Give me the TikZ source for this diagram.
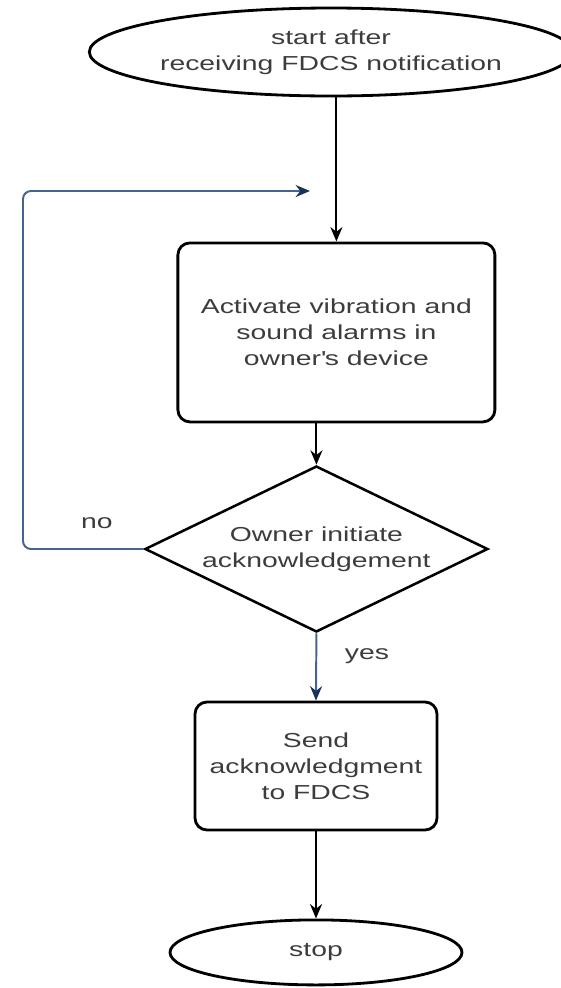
\documentclass[tikz,border=0pt]{standalone}
\usepackage{fontspec}
\setmainfont{Liberation Sans}[FakeStretch=1.4]
\usepackage{tikz}
\usetikzlibrary{shapes.geometric, arrows.meta, positioning, calc}

\definecolor{loopblue}{RGB}{70,100,140}
\definecolor{tipblue}{RGB}{25,50,90}
\definecolor{txtgray}{RGB}{60,60,60}

\begin{document}
\begin{tikzpicture}[
        every node/.style={font=\fontsize{14.4pt}{18.5pt}\selectfont, text=txtgray},
        term/.style={ellipse, draw, line width=2pt, inner sep=0pt, align=center},
        proc/.style={rectangle, draw, line width=2pt, rounded corners=0.3cm, inner sep=0pt, align=center},
        dec/.style={diamond, draw, line width=1.8pt, shape aspect=2.07, inner sep=0pt, align=center,
            minimum width=8.575cm, minimum height=4.15cm},
        flow/.style={-{Stealth[length=0.36cm, width=0.3cm]}, line width=1.4pt},
        back/.style={-{Stealth[length=0.36cm, width=0.3cm, color=tipblue]}, line width=1.4pt, draw=loopblue, rounded corners=0.2cm},
        lbl/.style={inner sep=0pt}
    ]
    \useasboundingbox (0,0) rectangle (14.025,-24.7);

    % Objects
    \node[term, minimum width=11.4cm, minimum height=2.2cm] (start) at (8.275,-1.3) {start after\\receiving FDCS notification};
    \node[proc, minimum width=7.925cm, minimum height=4.475cm] (alarm) at (8.41,-8.31) {Activate vibration and\\sound alarms in\\owner\textquotesingle s device};
    \node[dec] (ack) at (7.91,-13.725) {Owner initiate\\acknowledgement};
    \node[proc, minimum width=6.05cm, minimum height=3.2cm] (send) at (7.9,-19.15) {Send\\acknowledgment\\to FDCS};
    \node[term, minimum width=7.3cm, minimum height=1.625cm] (stop) at (7.9,-23.81) {stop};

    % Loop points
    \coordinate (loopcorner) at (0.575,-4.775);
    \coordinate (loopin) at (7.75,-4.775);

    % Labels
    \node[lbl] (nolbl) at (2.425,-13.075) {no};
    \node[lbl] (yeslbl) at (9.175,-16.4) {yes};

    % Flow
    \draw[flow] (alarm.north |- start.south) -- (alarm.north);
    \draw[flow] (ack.north |- alarm.south) -- (ack.north);
    \draw[back] (ack.west) -| (loopcorner) -- (loopin);
    \draw[back, rounded corners=0pt] (ack.south) -- (send.north);
    \draw[flow] (send.south) -- (stop.north);

\end{tikzpicture}
\end{document}
